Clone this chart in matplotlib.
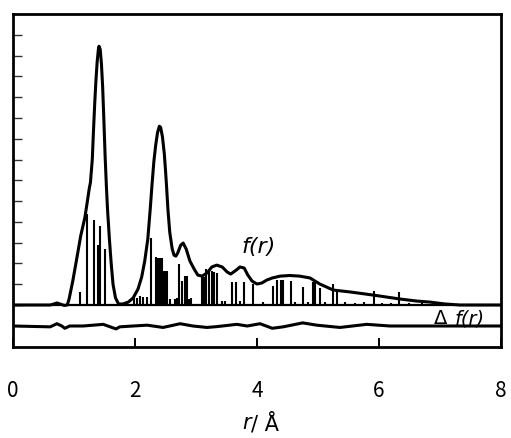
import numpy as np
import matplotlib.pyplot as plt

plt.rcParams['font.family'] = ['Noto Sans CJK JP', 'DejaVu Sans']

# f(r) кривая (r в Å, значения в условных единицах делений)
r_f = [0.00, 0.61, 0.67, 0.72, 0.77, 0.84, 0.89, 0.92, 0.98, 1.05, 1.11, 1.18,
       1.22, 1.25, 1.27, 1.30, 1.32, 1.34, 1.36, 1.38, 1.40, 1.41, 1.43, 1.45,
       1.47, 1.49, 1.51, 1.53, 1.55, 1.58, 1.61, 1.64, 1.68, 1.73, 1.80, 1.89,
       1.97, 2.05, 2.11, 2.16, 2.21, 2.25, 2.28, 2.31, 2.34, 2.37, 2.40, 2.42,
       2.45, 2.48, 2.50, 2.52, 2.54, 2.57, 2.61, 2.64, 2.67, 2.70, 2.75, 2.79,
       2.84, 2.90, 2.97, 3.03, 3.10, 3.18, 3.26, 3.34, 3.43, 3.51, 3.57, 3.66,
       3.72, 3.79, 3.85, 3.92, 4.00, 4.08, 4.16, 4.25, 4.38, 4.54, 4.70, 4.87,
       5.03, 5.25, 5.52, 5.90, 6.34, 6.62, 6.84, 7.08, 7.33, 8.00]
f_val = [0.00, 0.00, 0.05, 0.10, 0.05, -0.02, 0.00, 0.29, 1.15, 2.31, 3.32, 4.23,
         5.00, 5.60, 5.90, 7.00, 8.40, 9.70, 10.80, 11.70, 12.30, 12.45, 12.30, 11.60,
         10.50, 8.90, 7.20, 5.80, 4.60, 3.20, 2.00, 1.00, 0.35, 0.05, 0.05, 0.14,
         0.34, 0.77, 1.35, 2.12, 3.17, 4.62, 5.82, 6.92, 7.70, 8.30, 8.60, 8.55,
         8.10, 7.30, 6.50, 5.60, 4.60, 3.50, 2.70, 2.40, 2.35, 2.50, 2.88, 2.98,
         2.69, 2.12, 1.73, 1.44, 1.39, 1.54, 1.83, 1.92, 1.83, 1.59, 1.49, 1.68,
         1.83, 1.78, 1.44, 1.15, 1.01, 1.06, 1.20, 1.30, 1.39, 1.42, 1.39, 1.30,
         1.01, 0.72, 0.63, 0.48, 0.29, 0.19, 0.14, 0.05, 0.00, 0.00]

# разностная кривая Δf(r), смещена на -1
r_d = [0.00, 0.61, 0.72, 0.80, 0.85, 0.93, 1.15, 1.48, 1.64, 1.69, 1.75, 1.97,
       2.20, 2.46, 2.74, 2.95, 3.18, 3.34, 3.67, 3.84, 4.05, 4.25, 4.43, 4.75,
       4.98, 5.36, 5.80, 6.18, 6.62, 8.00]
d_val = [-1.01, -1.05, -0.90, -1.01, -1.12, -1.01, -1.01, -0.93, -1.10, -1.15,
         -1.05, -1.01, -0.97, -1.08, -0.90, -1.01, -1.08, -1.04, -0.93, -1.01,
         -0.90, -1.12, -1.05, -0.86, -0.97, -1.08, -0.93, -1.01, -1.01, -1.01]

# межатомные расстояния (штрихи)
r_st = [1.10, 1.21, 1.33, 1.39, 1.43, 1.51, 1.98, 2.03, 2.08, 2.13, 2.20, 2.26,
        2.34, 2.38, 2.41, 2.44, 2.46, 2.49, 2.52, 2.57, 2.66, 2.69, 2.72, 2.77,
        2.82, 2.85, 2.89, 2.92, 3.10, 3.13, 3.16, 3.21, 3.26, 3.30, 3.34, 3.43,
        3.48, 3.59, 3.66, 3.72, 3.79, 3.93, 4.10, 4.26, 4.33, 4.39, 4.43, 4.56,
        4.63, 4.75, 4.84, 4.92, 4.95, 5.03, 5.12, 5.25, 5.31, 5.45, 5.60, 5.75,
        5.92, 6.05, 6.20, 6.33, 6.50, 6.70]
h_st = [0.63, 4.38, 4.09, 2.88, 3.80, 2.69, 0.43, 0.34, 0.43, 0.38, 0.38, 3.22,
        2.31, 2.26, 2.26, 2.26, 1.63, 1.63, 1.63, 0.29, 0.29, 0.34, 1.97, 1.15,
        1.39, 1.39, 0.29, 0.34, 1.35, 1.35, 1.73, 1.63, 1.63, 1.59, 1.54, 0.19,
        0.19, 1.11, 1.11, 0.19, 1.11, 1.01, 0.15, 0.91, 1.20, 1.20, 1.20, 1.15,
        0.15, 0.87, 0.15, 1.11, 1.20, 0.82, 0.15, 1.01, 0.72, 0.15, 0.12, 0.15,
        0.67, 0.12, 0.10, 0.63, 0.10, 0.08]

fig = plt.figure(figsize=(5.11, 4.39), dpi=100)
ax = fig.add_axes([0.0254, 0.2073, 0.9550, 0.7585])

ax.vlines(r_st, 0, h_st, color='black', linewidth=1.5)
ax.axhline(0, color='black', linewidth=1.6)
ax.plot(r_f, f_val, color='black', linewidth=2.2, solid_joinstyle='round')
ax.plot(r_d, d_val, color='black', linewidth=2.2, solid_joinstyle='round')

ax.set_xlim(0, 8)
ax.set_ylim(-2.02, 14.0)
ax.set_xticks([0, 2, 4, 6, 8])
ax.set_xticklabels(['0', '2', '4', '6', '8'])
ax.set_yticks(np.arange(0, 14, 1))
ax.tick_params(axis='y', direction='in', length=6.5, width=1.0, color='#333333',
               labelleft=False)
ax.tick_params(axis='x', direction='in', length=6.5, width=1.4, pad=23,
               labelsize=15)
for s in ax.spines.values():
    s.set_linewidth(2.0)

ax.text(4.02, 2.84, 'f(r)', fontsize=16, style='italic', ha='center',
        va='center', family='DejaVu Sans')
ax.text(7.12, -0.62, 'Δ', fontsize=14, ha='right', va='center',
        family='DejaVu Sans')
ax.text(7.24, -0.62, 'f(r)', fontsize=14, style='italic', ha='left',
        va='center', family='DejaVu Sans')

ax.text(3.90, -5.65, 'r', fontsize=15, style='italic', ha='right', va='center',
        family='DejaVu Sans')
ax.text(3.90, -5.65, '/ Å', fontsize=15, ha='left', va='center',
        family='DejaVu Sans')

fig.savefig('out.png', dpi=100)
